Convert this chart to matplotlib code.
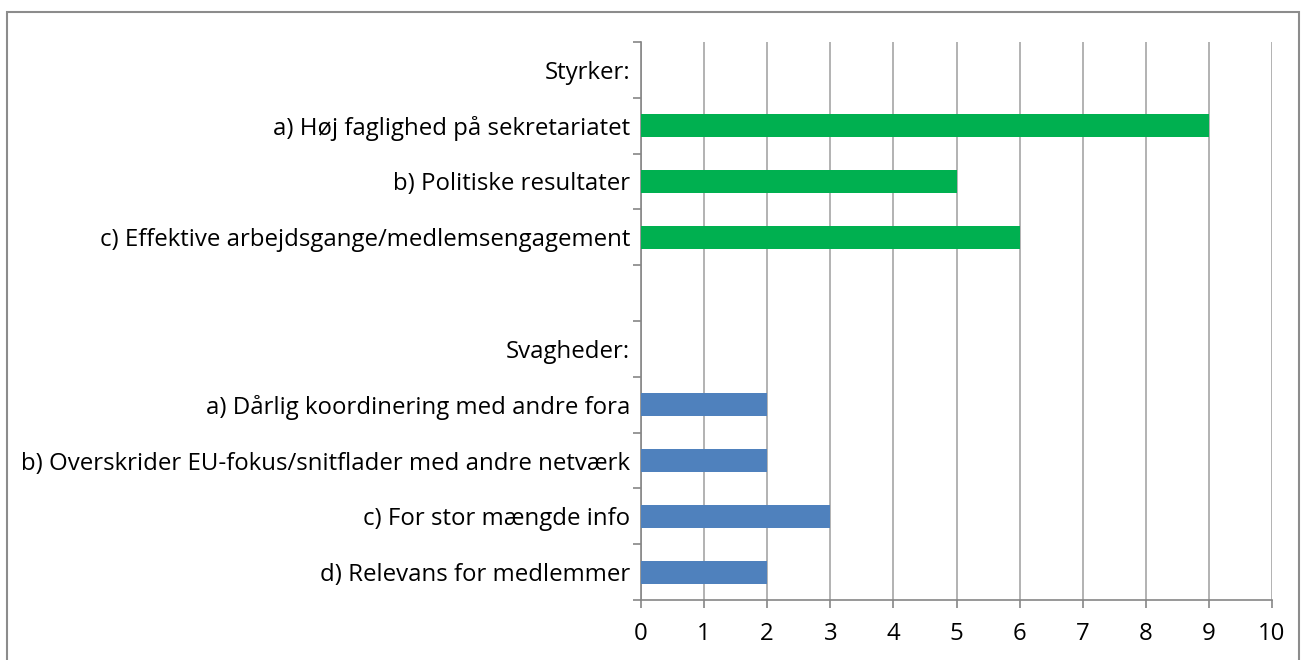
import matplotlib.pyplot as plt
from matplotlib.patches import Rectangle

categories = [
    "Styrker:",
    "a) Høj faglighed på sekretariatet",
    "b) Politiske resultater",
    "c) Effektive arbejdsgange/medlemsengagement",
    "",
    "Svagheder:",
    "a) Dårlig koordinering med andre fora",
    "b) Overskrider EU-fokus/snitflader med andre netværk",
    "c) For stor mængde info",
    "d) Relevans for medlemmer",
]
values = [0, 9, 5, 6, 0, 0, 2, 2, 3, 2]
groups = ["s", "s", "s", "s", "", "w", "w", "w", "w", "w"]

green = "#00B050"
blue = "#4F81BD"
colors = [green if g == "s" else blue for g in groups]

plt.rcParams["font.family"] = ["Open Sans", "DejaVu Sans"]

fig = plt.figure(figsize=(13.04, 6.6), dpi=100)
ax = fig.add_axes([641 / 1304, 60 / 660, 631 / 1304, 558 / 660])

positions = list(range(len(categories)))
ax.barh(positions, values, height=0.41, color=colors, zorder=3)

ax.set_ylim(len(categories) - 0.5, -0.5)
ax.set_xlim(0, 10)
ax.set_xticks(range(0, 11))
ax.set_yticks([p - 0.5 for p in positions] + [len(categories) - 0.5])
ax.set_yticklabels([])
ax.set_yticks(positions, minor=True)
ax.set_yticklabels(categories, minor=True)
ax.tick_params(axis="y", which="minor", length=0, pad=8, labelsize=17.3)
ax.tick_params(axis="y", which="major", length=5.5, color="#868686", width=1.2)
ax.tick_params(axis="x", length=5.5, color="#868686", width=1.2, labelsize=17.3, pad=10)

ax.grid(axis="x", color="#A6A6A6", linewidth=1.2, zorder=0)
for side in ["top", "right"]:
    ax.spines[side].set_visible(False)
for side in ["left", "bottom"]:
    ax.spines[side].set_color("#868686")
    ax.spines[side].set_linewidth(1.2)

fig.patches.append(Rectangle((7 / 1304, -0.01), 1292 / 1304, 1 - 12 / 660 + 0.01,
                             transform=fig.transFigure, fill=False,
                             edgecolor="#8C8C8C", linewidth=1.5))

fig.savefig("out.png", dpi=100)
